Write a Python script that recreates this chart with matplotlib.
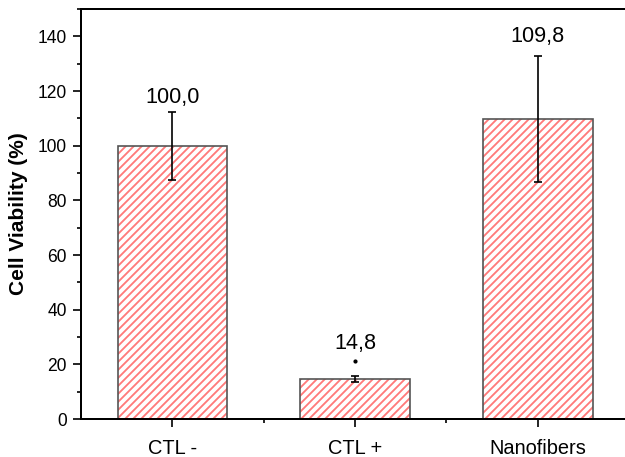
import numpy as np
import matplotlib
matplotlib.use("Agg")
from matplotlib import pyplot as plt
from matplotlib.ticker import MultipleLocator, FixedLocator

plt.rcParams["font.family"] = ["Liberation Sans", "DejaVu Sans"]
plt.rcParams["hatch.linewidth"] = 1.1

groups = ["CTL -", "CTL +", "Nanofibers"]
viability = [100.0, 14.8, 109.8]
errors = [12.4, 1.1, 23.0]
label_gap = [1.5, 8.0, 3.5]
sig_dot = [None, 21.2, None]

fig = plt.figure(figsize=(625 / 120, 457 / 120), dpi=120)
ax = fig.add_axes([0.1296, 0.083, 0.877, 0.897])

x = np.arange(1, len(groups) + 1)
# hatch takes the edge colour, so draw the red stripes and the grey outline separately
ax.bar(x, viability, width=0.6, color="white", edgecolor="#ff7a7a",
       linewidth=0, hatch="/////", zorder=2)
ax.bar(x, viability, width=0.6, fill=False, edgecolor="#555555",
       linewidth=1.0, zorder=2)
ax.errorbar(x, viability, yerr=errors, fmt="none", ecolor="black",
            elinewidth=1.0, capsize=2.5, capthick=1.0, zorder=3)

for xi, v, e, g in zip(x, viability, errors, label_gap):
    ax.text(xi, v + e + g, f"{v:.1f}".replace(".", ","), ha="center",
            va="bottom", fontsize=13)
for xi, d in zip(x, sig_dot):
    if d is not None:
        ax.plot(xi, d, marker="o", color="black", markersize=1.5)

ax.set_xlim(0.5, 3.5)
ax.set_ylim(0, 150)
ax.set_xticks(x)
ax.set_xticklabels(groups, fontsize=12)
ax.xaxis.set_minor_locator(FixedLocator([1.5, 2.5]))
ax.set_yticks(np.arange(0, 141, 20))
ax.yaxis.set_minor_locator(MultipleLocator(10))
ax.tick_params(axis="y", labelsize=10.5)
ax.tick_params(which="major", length=5, width=1.0, direction="out")
ax.tick_params(which="minor", length=2.5, width=1.0, direction="out")
ax.tick_params(axis="x", pad=7)
ax.set_ylabel("Cell Viability (%)", fontsize=12.5, fontweight="bold", labelpad=6)
for side in ax.spines.values():
    side.set_linewidth(1.2)

fig.savefig("out.png", dpi=120)
